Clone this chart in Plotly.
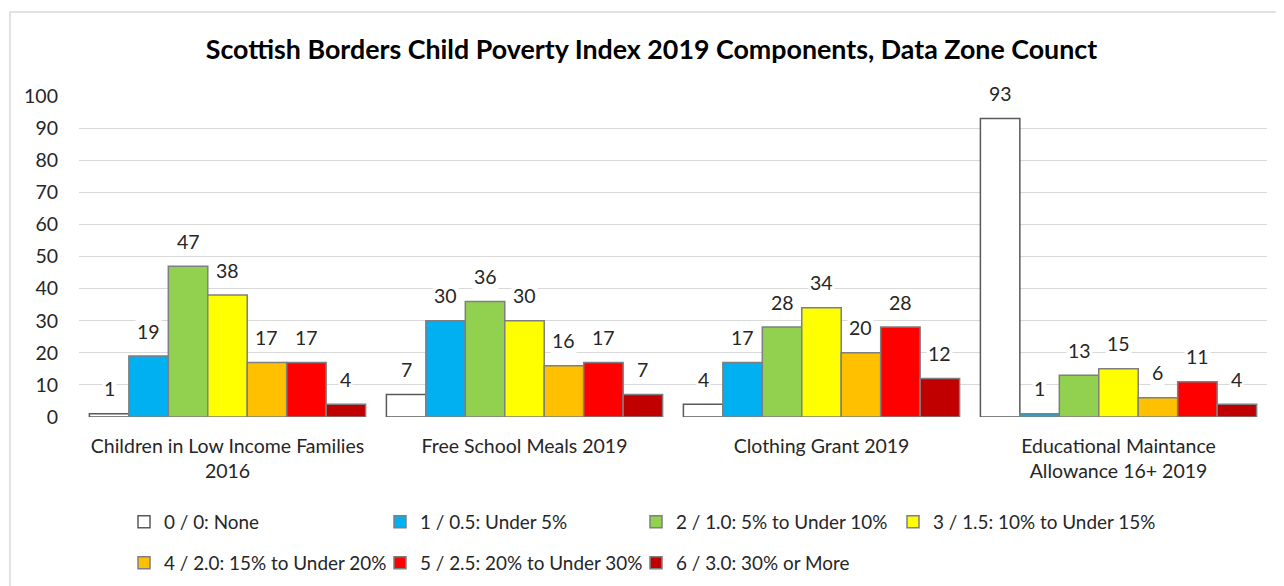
import plotly.graph_objects as go

categories = ["Children in Low Income Families<br>2016", "Free School Meals 2019",
              "Clothing Grant 2019", "Educational Maintance<br>Allowance 16+ 2019"]
series_names = ["0 / 0: None", "1 / 0.5: Under 5%", "2 / 1.0: 5% to Under 10%",
                "3 / 1.5: 10% to Under 15%", "4 / 2.0: 15% to Under 20%",
                "5 / 2.5: 20% to Under 30%", "6 / 3.0: 30% or More"]
s0 = [1, 7, 4, 93]
s1 = [19, 30, 17, 1]
s2 = [47, 36, 28, 13]
s3 = [38, 30, 34, 15]
s4 = [17, 16, 20, 6]
s5 = [17, 17, 28, 11]
s6 = [4, 7, 12, 4]
series_values = [s0, s1, s2, s3, s4, s5, s6]
colors = ["#FFFFFF", "#00B0F0", "#92D050", "#FFFF00", "#FFC000", "#FF0000", "#C00000"]
outline = ["#595959", "#7F7F7F", "#7F7F7F", "#7F7F7F", "#7F7F7F", "#7F7F7F", "#7F7F7F"]
legend_ids = ["legend", "legend", "legend", "legend3", "legend2", "legend2", "legend2"]

FONT = "Lato, Carlito, Calibri, sans-serif"
TXT = "#262626"
FS = 19.5
LFS = 18.9
# the page body has an 8px margin, so the figure is drawn 8px smaller and shifted
W, H = 1276, 578
L, R, T, B = 71, 17, 88, 169
pw = W - L - R
ph = H - T - B
BARGAP = 0.07

fig = go.Figure()
n = len(series_names)
for i, (name, vals) in enumerate(zip(series_names, series_values)):
    fig.add_trace(go.Bar(
        name=name, x=categories, y=vals,
        marker=dict(color=colors[i], line=dict(color=outline[i], width=1.5)),
        legend=legend_ids[i],
        hoverinfo="x+y+name",
    ))

# data labels with white background, placed over each bar through the category axis
annotations = []
gw = 1 - BARGAP
for i, vals in enumerate(series_values):
    off = -gw / 2 + (i + 0.5) * gw / n
    for j, v in enumerate(vals):
        annotations.append(dict(
            x=j + off, y=v, xref="x", yref="y", text=str(v), showarrow=False,
            yanchor="middle", yshift=25, bgcolor="white", borderpad=1,
            font=dict(family=FONT, size=FS, color=TXT)))

legend_common = dict(orientation="h", xref="paper", yref="container", xanchor="left",
                     yanchor="middle", entrywidth=211, entrywidthmode="pixels",
                     font=dict(family=FONT, size=LFS, color=TXT),
                     bgcolor="rgba(0,0,0,0)", itemclick=False, itemdoubleclick=False,
                     traceorder="normal")
legend_single = dict(legend_common, entrywidth=0)

fig.update_layout(
    width=W, height=H,
    margin=dict(l=L, r=R, t=T, b=B),
    paper_bgcolor="white", plot_bgcolor="white",
    barmode="group", bargap=BARGAP, bargroupgap=0,
    title=dict(text="<b>Scottish Borders Child Poverty Index 2019 Components, Data Zone Counct</b>",
               x=(643.5 - L) / pw, xref="paper", xanchor="center",
               y=1 - 42 / H, yref="container", yanchor="middle",
               font=dict(family=FONT, size=26.8, color="#000000")),
    font=dict(family=FONT, size=FS, color=TXT),
    xaxis=dict(type="category", showgrid=False, showline=False, zeroline=False, ticks="",
               automargin=False,
               tickfont=dict(family=FONT, size=FS, color=TXT), ticklabelstandoff=15),
    yaxis=dict(range=[0, 100], dtick=10, showgrid=True, gridcolor="#D9D9D9", gridwidth=1,
               automargin=False,
               zeroline=False, showline=False, ticks="", ticklabelstandoff=20,
               tickfont=dict(family=FONT, size=FS, color=TXT)),
    legend=dict(legend_common, x=(116 - L) / pw, y=1 - 514 / H),
    legend3=dict(legend_single, x=(885 - L) / pw, y=1 - 514 / H),
    legend2=dict(legend_common, x=(116 - L) / pw, y=1 - 555 / H),
    annotations=annotations,
    shapes=[dict(type="rect", xref="paper", yref="paper",
                 x0=(2 - L) / pw, x1=(1400 - L) / pw,
                 y0=(409 - 700) / ph, y1=(409 - 4) / ph,
                 line=dict(color="#D9D9D9", width=1.5), fillcolor="rgba(0,0,0,0)",
                 layer="below")],
    showlegend=True,
)

fig.write_html("out.html")
